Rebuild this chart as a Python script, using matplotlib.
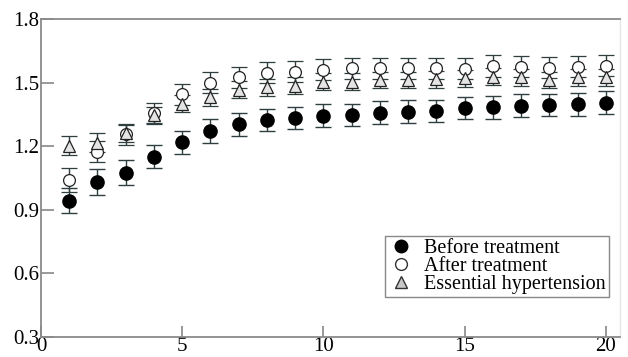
import matplotlib
matplotlib.use("Agg")
import matplotlib.pyplot as plt
from matplotlib.lines import Line2D

plt.rcParams["font.family"] = ["Liberation Serif", "DejaVu Serif"]

weeks = list(range(1, 21))

before = [0.943, 1.03, 1.075, 1.15, 1.218, 1.272, 1.303, 1.324, 1.333, 1.344,
          1.347, 1.358, 1.363, 1.366, 1.379, 1.383, 1.391, 1.394, 1.397, 1.405]
before_err = [0.06, 0.06, 0.058, 0.055, 0.055, 0.055, 0.055, 0.053, 0.053, 0.053,
              0.053, 0.053, 0.053, 0.053, 0.053, 0.053, 0.053, 0.053, 0.053, 0.053]

after = [1.041, 1.174, 1.256, 1.355, 1.445, 1.50, 1.525, 1.547, 1.551, 1.561,
         1.567, 1.567, 1.567, 1.567, 1.565, 1.578, 1.575, 1.570, 1.575, 1.580]
after_err = [0.055, 0.05, 0.05, 0.05, 0.05, 0.05, 0.05, 0.05, 0.05, 0.05,
             0.05, 0.05, 0.05, 0.05, 0.05, 0.05, 0.05, 0.05, 0.05, 0.05]

essential = [1.202, 1.217, 1.261, 1.347, 1.399, 1.431, 1.465, 1.478, 1.486, 1.504,
             1.504, 1.512, 1.512, 1.516, 1.520, 1.528, 1.525, 1.512, 1.525, 1.525]
essential_err = [0.045, 0.045, 0.04, 0.04, 0.04, 0.04, 0.04, 0.04, 0.04, 0.04,
                 0.04, 0.04, 0.04, 0.04, 0.04, 0.04, 0.04, 0.04, 0.04, 0.04]

labels = ["Before treatment", "After treatment", "Essential hypertension"]

fig = plt.figure(figsize=(6.28, 3.57), dpi=100)
ax = fig.add_axes([0.0653, 0.056, 0.922, 0.891])

err_kw = dict(ls="none", ecolor="#2f3f3f", elinewidth=1.0, capsize=5.5,
              capthick=1.0)
ax.errorbar(weeks, before, yerr=before_err, marker="o", ms=9.5,
            mfc="black", mec="black", **err_kw)
ax.errorbar(weeks, after, yerr=after_err, marker="o", ms=8.5,
            mfc="white", mec="#222222", mew=0.9, **err_kw)
ax.errorbar(weeks, essential, yerr=essential_err, marker="^", ms=8.5,
            mfc="#e4e4e4", mec="#222222", mew=0.9, **err_kw)

ax.set_xlim(0, 20.5)
ax.set_ylim(0.3, 1.8)
ax.set_xticks([0, 5, 10, 15, 20])
ax.set_yticks([0.3, 0.6, 0.9, 1.2, 1.5, 1.8])
ax.set_yticklabels(["0.3", "0.6", "0.9", "1.2", "1.5", "1.8"])
ax.tick_params(direction="in", length=9, width=1.2, color="#888888",
               labelsize=15, pad=1)
ax.tick_params(axis="x", length=8, pad=0)

for side in ["left", "bottom", "top"]:
    ax.spines[side].set_color("#8a8a8a")
    ax.spines[side].set_linewidth(1.3)
ax.spines["right"].set_color("#e6e6e6")
ax.spines["right"].set_linewidth(1.0)

handles = [
    Line2D([], [], ls="none", marker="o", ms=9, mfc="black", mec="black"),
    Line2D([], [], ls="none", marker="o", ms=8.5, mfc="white", mec="#333333"),
    Line2D([], [], ls="none", marker="^", ms=8.5, mfc="#c8c8c8", mec="#333333"),
]
leg = ax.legend(handles, labels, loc="lower right",
                bbox_to_anchor=(0.981, 0.126), fontsize=14.5,
                frameon=True, fancybox=False, borderpad=0.15,
                labelspacing=-0.05, handletextpad=0.5, handlelength=1.3,
                borderaxespad=0)
leg.get_frame().set_edgecolor("#6a6a6a")
leg.get_frame().set_linewidth(1.0)

fig.savefig("out.png", dpi=100, facecolor="white")
